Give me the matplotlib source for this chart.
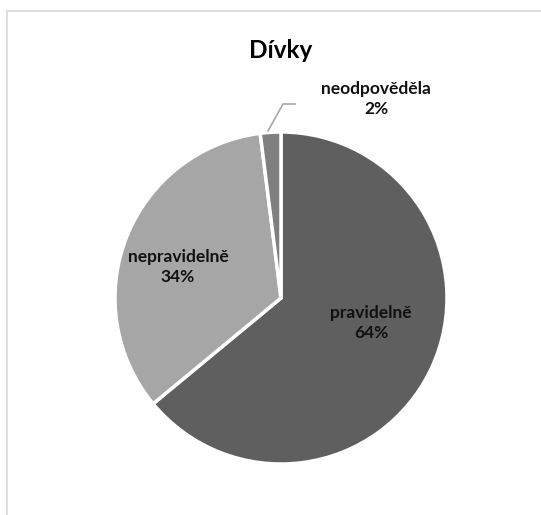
import matplotlib.pyplot as plt
from matplotlib.patches import Rectangle

labels = ['pravidelně', 'nepravidelně', 'neodpověděla']
shares = [64, 34, 2]
colors = ['#5f5f5f', '#a6a6a6', '#7f7f7f']

plt.rcParams['font.family'] = ['Lato', 'DejaVu Sans']

fig = plt.figure(figsize=(5.41, 5.15), dpi=100)

# light grey frame around the chart area
fig.patches.append(Rectangle((7/541, -0.1), 1.2, (515-11)/515 + 0.1,
                             transform=fig.transFigure, fill=False,
                             edgecolor='#d9d9d9', linewidth=1.2))

cx, cy, r = 281, 298, 166
ax = fig.add_axes([(cx-r)/541, (515-cy-r)/515, 2*r/541, 2*r/515])
ax.pie(shares, colors=colors, startangle=90, counterclock=False,
       wedgeprops=dict(edgecolor='white', linewidth=2.5))
ax.set_xlim(-1, 1)
ax.set_ylim(-1, 1)
ax.set_aspect('auto')

def pos(px, py):
    return (px - cx) / r, (cy - py) / r

label_pos = [pos(371, 323), pos(178, 267), pos(376, 99)]
for lab, s, p in zip(labels, shares, label_pos):
    ax.text(p[0], p[1], f'{lab}\n{s}%', ha='center', va='center',
            fontsize=12.5, fontweight='bold', color='#111111', linespacing=1.35)

# leader line for the small slice
lx, ly = zip(pos(268, 131), pos(283, 104), pos(295, 104))
ax.plot(lx, ly, color='#a6a6a6', linewidth=1.2, clip_on=False)

fig.text(281/541, 1 - 50/515, 'Dívky', ha='center', va='center',
         fontsize=17.5, fontweight='bold', color='black')

fig.savefig('out.png', dpi=100)
